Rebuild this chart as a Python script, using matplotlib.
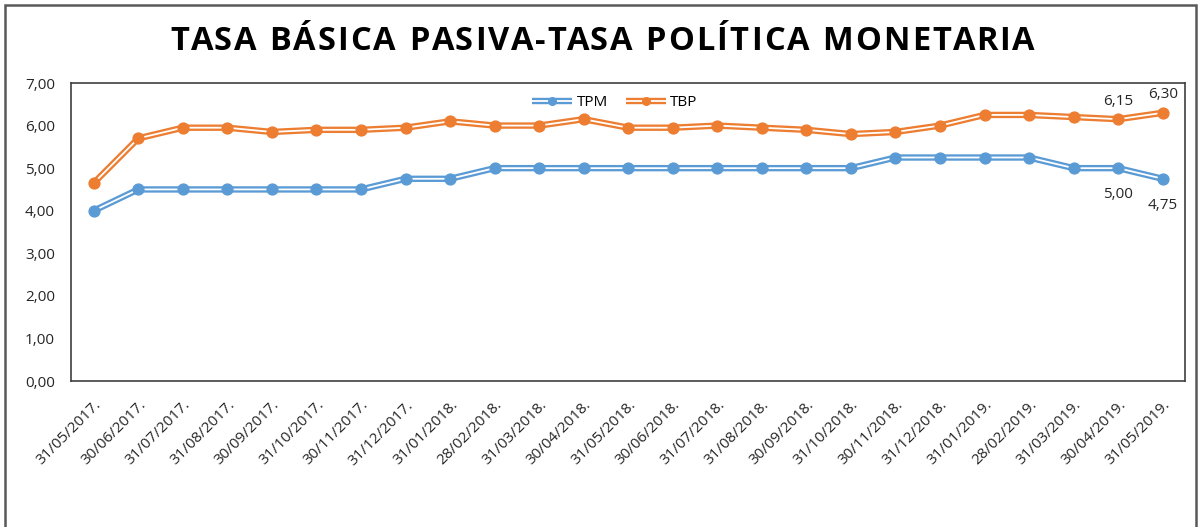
import matplotlib
matplotlib.use("Agg")
import matplotlib.pyplot as plt
from matplotlib.patches import Rectangle
from matplotlib.legend_handler import HandlerTuple
from matplotlib.ticker import FuncFormatter

# fechas de corte mensuales
fechas = [
    "31/05/2017.", "30/06/2017.", "31/07/2017.", "31/08/2017.", "30/09/2017.",
    "31/10/2017.", "30/11/2017.", "31/12/2017.", "31/01/2018.", "28/02/2018.",
    "31/03/2018.", "30/04/2018.", "31/05/2018.", "30/06/2018.", "31/07/2018.",
    "31/08/2018.", "30/09/2018.", "31/10/2018.", "30/11/2018.", "31/12/2018.",
    "31/01/2019.", "28/02/2019.", "31/03/2019.", "30/04/2019.", "31/05/2019.",
]
tpm = [4.00, 4.50, 4.50, 4.50, 4.50, 4.50, 4.50, 4.75, 4.75, 5.00,
       5.00, 5.00, 5.00, 5.00, 5.00, 5.00, 5.00, 5.00, 5.25, 5.25,
       5.25, 5.25, 5.00, 5.00, 4.75]
tbp = [4.65, 5.70, 5.95, 5.95, 5.85, 5.90, 5.90, 5.95, 6.10, 6.00,
       6.00, 6.15, 5.95, 5.95, 6.00, 5.95, 5.90, 5.80, 5.85, 6.00,
       6.25, 6.25, 6.20, 6.15, 6.30]

TITULO = "TASA BÁSICA PASIVA-TASA POLÍTICA MONETARIA"

AZUL = "#5B9BD5"
NARANJA = "#ED7D31"
FONT = ["Open Sans", "DejaVu Sans"]

plt.rcParams['font.family'] = FONT

W, H = 1201, 527
fig = plt.figure(figsize=(W / 100, H / 100), dpi=100)
ax = fig.add_axes([0.0595, 0.277, 0.9272, 0.5655])

x = list(range(len(fechas)))


def linea_doble(serie, color, label):
    # simula la linea doble de Excel: trazo grueso + trazo blanco al centro
    l1, = ax.plot(x, serie, color=color, lw=4.6, solid_capstyle='butt', zorder=2)
    l2, = ax.plot(x, serie, color='white', lw=1.3, solid_capstyle='butt', zorder=3)
    l3, = ax.plot(x, serie, ls='none', marker='o', ms=7.8, color=color,
                  markeredgecolor=color, zorder=4)
    return (l1, l2, l3), label


h_tpm = linea_doble(tpm, AZUL, "TPM")
h_tbp = linea_doble(tbp, NARANJA, "TBP")

# etiquetas de los dos ultimos puntos
for i in (len(x) - 2, len(x) - 1):
    ax.annotate(f"{tbp[i]:.2f}".replace('.', ','), (x[i], tbp[i]),
                xytext=(0, 13), textcoords='offset points',
                ha='center', va='center', fontsize=11, color='#262626')
    ax.annotate(f"{tpm[i]:.2f}".replace('.', ','), (x[i], tpm[i]),
                xytext=(0, -19), textcoords='offset points',
                ha='center', va='center', fontsize=11, color='#262626')

ax.set_xlim(-0.5, len(x) - 0.5)
ax.set_ylim(0, 7)
ax.set_yticks(range(0, 8))
ax.yaxis.set_major_formatter(FuncFormatter(lambda v, p: f"{v:.2f}".replace('.', ',')))
ax.set_xticks(x)
ax.set_xticklabels(fechas, rotation=45, ha='right', rotation_mode='anchor')
ax.tick_params(axis='both', length=0, labelsize=11, labelcolor='#262626')
ax.tick_params(axis='y', pad=12)
ax.tick_params(axis='x', pad=12)
for s in ax.spines.values():
    s.set_color('#404040')
    s.set_linewidth(1.2)

ax.legend([h_tpm[0], h_tbp[0]], [h_tpm[1], h_tbp[1]],
          handler_map={tuple: HandlerTuple(ndivide=1)},
          loc='upper center', bbox_to_anchor=(0.488, 1.005), ncol=2,
          frameon=False, fontsize=11, handlelength=2.6, columnspacing=1.2,
          handletextpad=0.3, markerscale=0.7)

# titulo con espaciado entre letras (como en Excel)
renderer = fig.canvas.get_renderer()
tsize = 23.5
x0, x1, ty = 170, 1035, 42


def ancho(s):
    t = fig.text(0, 0, s, fontsize=tsize, fontweight='bold')
    w = t.get_window_extent(renderer).width
    t.remove()
    return w


ref = ancho("|")
offs = [ancho(TITULO[:i] + "|") - ref if i else 0 for i in range(len(TITULO))]
total = ancho(TITULO)
track = (x1 - x0 - total) / (len(TITULO) - 1)
for i, ch in enumerate(TITULO):
    fig.text((x0 + offs[i] + i * track) / W, 1 - ty / H, ch, ha='left', va='center',
             fontsize=tsize, fontweight='bold', color='black')

# marco exterior del grafico
fig.patches.append(Rectangle((0.004, -0.05), 0.992, 1.04, transform=fig.transFigure,
                             fill=False, edgecolor='#595959', linewidth=1.8))

fig.savefig("out.png", dpi=100)
